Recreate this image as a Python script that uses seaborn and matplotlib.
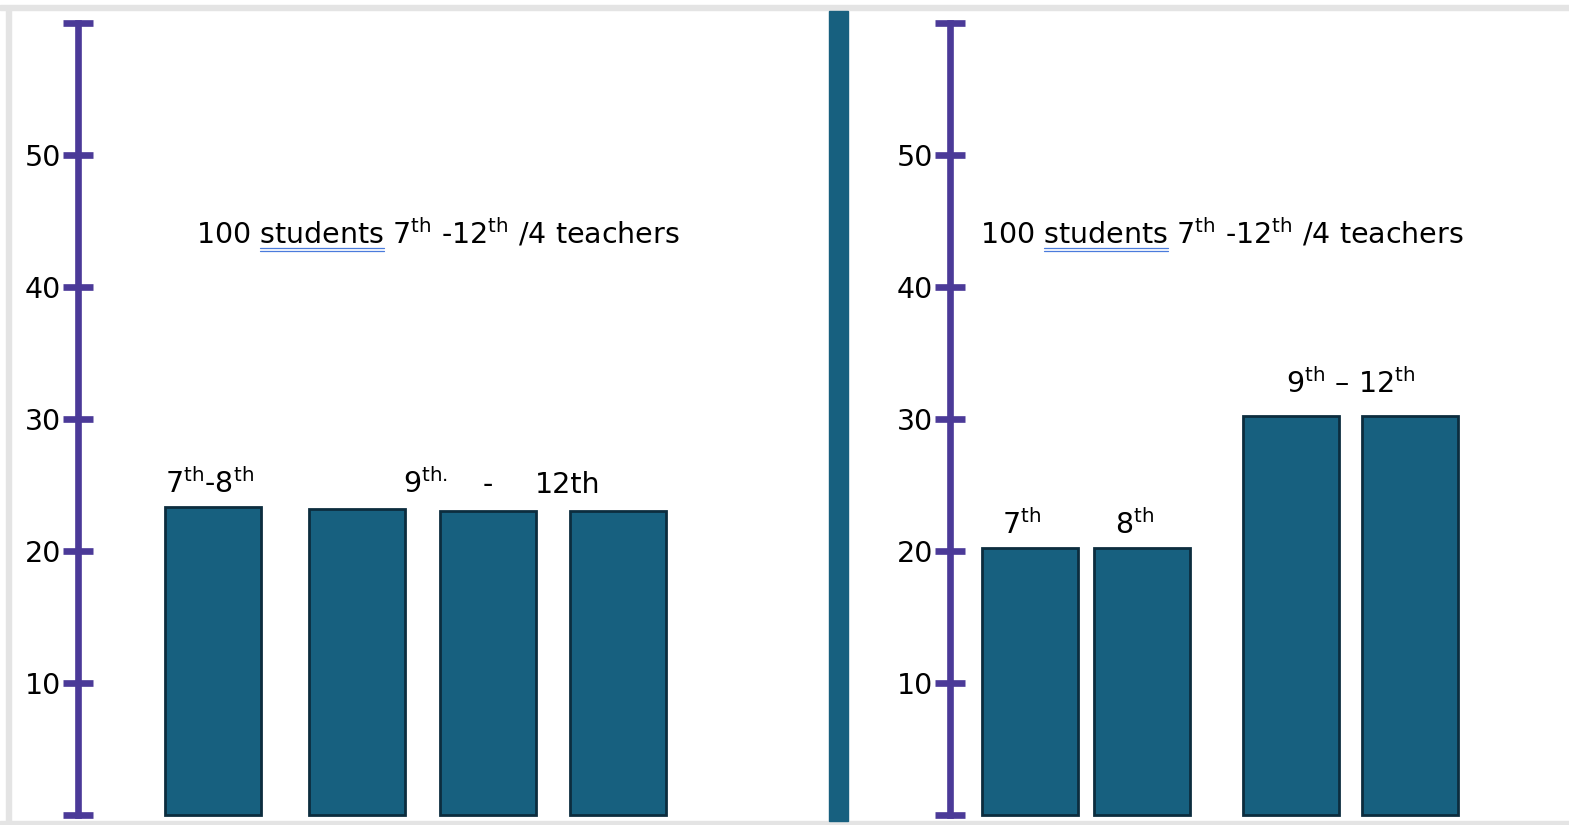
import numpy as np
import pandas as pd
import matplotlib
matplotlib.use("Agg")
import matplotlib.pyplot as plt
from matplotlib.patches import Rectangle
from matplotlib.lines import Line2D
import seaborn as sns

# ---------------- data ----------------
left_groups = ["7th-8th", "9th-12th a", "9th-12th b", "9th-12th c"]
left_values = [23.3, 23.2, 23.0, 23.0]
right_groups = ["7th", "8th", "9th-12th a", "9th-12th b"]
right_values = [20.2, 20.2, 30.2, 30.2]
y_ticks = [0, 10, 20, 30, 40, 50, 60]
y_tick_labels = ["", "10", "20", "30", "40", "50", ""]
title_plain = "100 students"
title_text = r"100 students 7$^{\mathrm{th}}$ -12$^{\mathrm{th}}$ /4 teachers"

# ---------------- layout (pixel units) ----------------
W, H = 1569, 825
ZERO_ROW, PX_PER_UNIT = 815, 13.2
left_slots = [213, 357, 488, 618]
right_slots = [1030, 1142, 1291, 1409.5]
BAR_W = 96
TEAL = "#17607f"
EDGE = "#0c2d3e"
PURPLE = "#4b3a98"
GRAY = "#e4e4e4"
FS = 20.5

sns.set_theme(style="white")
plt.rcParams["font.family"] = ["DejaVu Sans"]
plt.rcParams["mathtext.fontset"] = "dejavusans"

fig = plt.figure(figsize=(W / 100, H / 100), dpi=100)
fig.patch.set_facecolor("white")


def fx(x):
    return x / W


def fy(y):
    return 1 - y / H


# frame of the screenshot
fig.patches.append(Rectangle((fx(0), fy(10)), 1, 5 / H, transform=fig.transFigure,
                             color=GRAY, zorder=0))
fig.patches.append(Rectangle((fx(6), fy(821)), 5 / W, 811 / H, transform=fig.transFigure,
                             color=GRAY, zorder=0))
fig.patches.append(Rectangle((0, 0), 1, 4 / H, transform=fig.transFigure,
                             color=GRAY, zorder=0))
# divider
fig.patches.append(Rectangle((fx(829), fy(821)), 19 / W, 810 / H, transform=fig.transFigure,
                             color=TEAL, zorder=1))


def panel(x0, x1, slots, groups, values, spine_x):
    ax = fig.add_axes([fx(x0), fy(821), (x1 - x0) / W, 811 / H])
    ax.set_facecolor("none")
    df = pd.DataFrame({"group": groups, "pos": slots, "value": values})
    min_gap = np.min(np.diff(sorted(slots)))
    sns.barplot(data=df, x="pos", y="value", native_scale=True, orient="x",
                width=BAR_W / min_gap, color=TEAL, saturation=1,
                edgecolor=EDGE, linewidth=2, errorbar=None, ax=ax, zorder=3)
    ax.set_xlim(x0, x1)
    ax.set_ylim((ZERO_ROW - 821) / PX_PER_UNIT, (ZERO_ROW - 10) / PX_PER_UNIT)
    for s in ["top", "right", "bottom"]:
        ax.spines[s].set_visible(False)
    sp = ax.spines["left"]
    sp.set_position(("data", spine_x))
    sp.set_bounds(0, 60)
    sp.set_color(PURPLE)
    sp.set_linewidth(4.8)
    sp.set_zorder(4)
    ax.set_yticks(y_ticks)
    ax.set_yticklabels(y_tick_labels)
    ax.tick_params(axis="y", direction="inout", length=22, width=4.8, color=PURPLE,
                   labelsize=FS, labelcolor="black", pad=1, left=True)
    ax.set_xticks([])
    ax.set_xlabel("")
    ax.set_ylabel("")
    ax.grid(False)
    return ax


axL = panel(11, 829, left_slots, left_groups, left_values, 78)
axR = panel(848, 1565, right_slots, right_groups, right_values, 950)


def label(x, y, s, **kw):
    return fig.text(fx(x), fy(y), s, fontsize=FS, color="black", ha="left",
                    va="baseline", **kw)


# titles with spell-check underline under "students"
fig.canvas.draw()
renderer = fig.canvas.get_renderer()
tmp1 = fig.text(0, 0, title_plain, fontsize=FS)
tmp2 = fig.text(0, 0, title_plain.split()[1], fontsize=FS)
w1 = tmp1.get_window_extent(renderer).width
w2 = tmp2.get_window_extent(renderer).width
tmp1.remove()
tmp2.remove()

for tx in (196, 980):
    label(tx, 244, title_text)
    for dy in (248, 251):
        fig.add_artist(Line2D([fx(tx + w1 - w2 + 1), fx(tx + w1 + 1)], [fy(dy), fy(dy)],
                              transform=fig.transFigure, color="#4a7bdc", lw=0.9))

# bar group labels
label(165, 493, r"7$^{\mathrm{th}}$-8$^{\mathrm{th}}$")
label(403, 493, r"9$^{\mathrm{th.}}$")
label(483, 493, "-")
label(535, 493, "12th")
label(1002, 534, r"7$^{\mathrm{th}}$")
label(1115, 534, r"8$^{\mathrm{th}}$")
label(1286, 393, r"9$^{\mathrm{th}}$ – 12$^{\mathrm{th}}$")

fig.savefig("out.png", dpi=100, facecolor="white")
